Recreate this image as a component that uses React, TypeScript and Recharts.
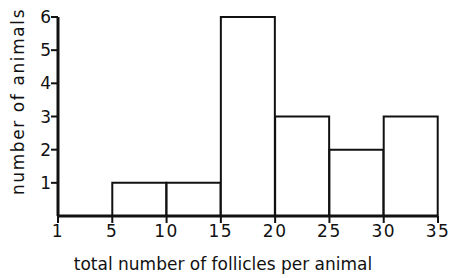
import { ComposedChart, Bar, XAxis, YAxis } from 'recharts';

// bins of 5 follicles, counted per animal
const binStarts = [0, 5, 10, 15, 20, 25, 30];
const animalCounts = [0, 1, 1, 6, 3, 2, 3];
const xTicks = [0, 5, 10, 15, 20, 25, 30, 35];
const xTickLabels = ['1', '5', '10', '15', '20', '25', '30', '35'];
const yTicks = [1, 2, 3, 4, 5, 6];

const INK = '#111';
const FONT = '"DejaVu Sans", sans-serif';

const data = binStarts.map((s, i) => ({ bin: `${s}-${s + 5}`, start: s, count: animalCounts[i] }));

function YLabel({ viewBox }: any) {
  const x = viewBox.x + 24;
  const y = viewBox.y + viewBox.height / 2 - 15;
  return (
    <text x={x} y={y} transform={`rotate(-90, ${x}, ${y})`} textAnchor="middle"
      fill={INK} fontSize={17} fontFamily={FONT} letterSpacing={1.6}>
      number of animals
    </text>
  );
}

function XLabel({ viewBox }: any) {
  const x = viewBox.x + viewBox.width / 2 - 25;
  const y = viewBox.y + 54;
  return (
    <text x={x} y={y} textAnchor="middle" fill={INK} fontSize={17} fontFamily={FONT}>
      total number of follicles per animal
    </text>
  );
}

export default function App() {
  return (
    <div style={{ position: 'absolute', left: 0, top: 0, background: '#fff' }}>
      <ComposedChart width={461} height={278} data={data}
        margin={{ top: 17, right: 23, left: 0, bottom: 0 }}
        barCategoryGap={0} barGap={0}>
        <XAxis xAxisId="cat" dataKey="bin" hide height={0} />
        <XAxis
          xAxisId="num"
          dataKey="start"
          type="number"
          domain={[0, 35]}
          ticks={xTicks}
          interval={0}
          tickFormatter={(v: number) => xTickLabels[xTicks.indexOf(v)]}
          height={62}
          axisLine={{ stroke: INK, strokeWidth: 3 }}
          tickLine={{ stroke: INK, strokeWidth: 2 }}
          tickSize={7}
          tickMargin={2}
          tick={{ fill: INK, fontSize: 17, fontFamily: FONT, letterSpacing: 1.5 }}
          allowDataOverflow
          label={<XLabel />}
        />
        <YAxis
          type="number"
          domain={[0, 6]}
          ticks={yTicks}
          width={58}
          axisLine={{ stroke: INK, strokeWidth: 3 }}
          tickLine={{ stroke: INK, strokeWidth: 2 }}
          tickSize={7}
          tickMargin={0}
          tick={{ fill: INK, fontSize: 17, fontFamily: FONT }}
          label={<YLabel />}
        />
        <Bar xAxisId="cat" dataKey="count" fill="#fff" stroke={INK} strokeWidth={2}
          isAnimationActive={false} />
      </ComposedChart>
    </div>
  );
}
